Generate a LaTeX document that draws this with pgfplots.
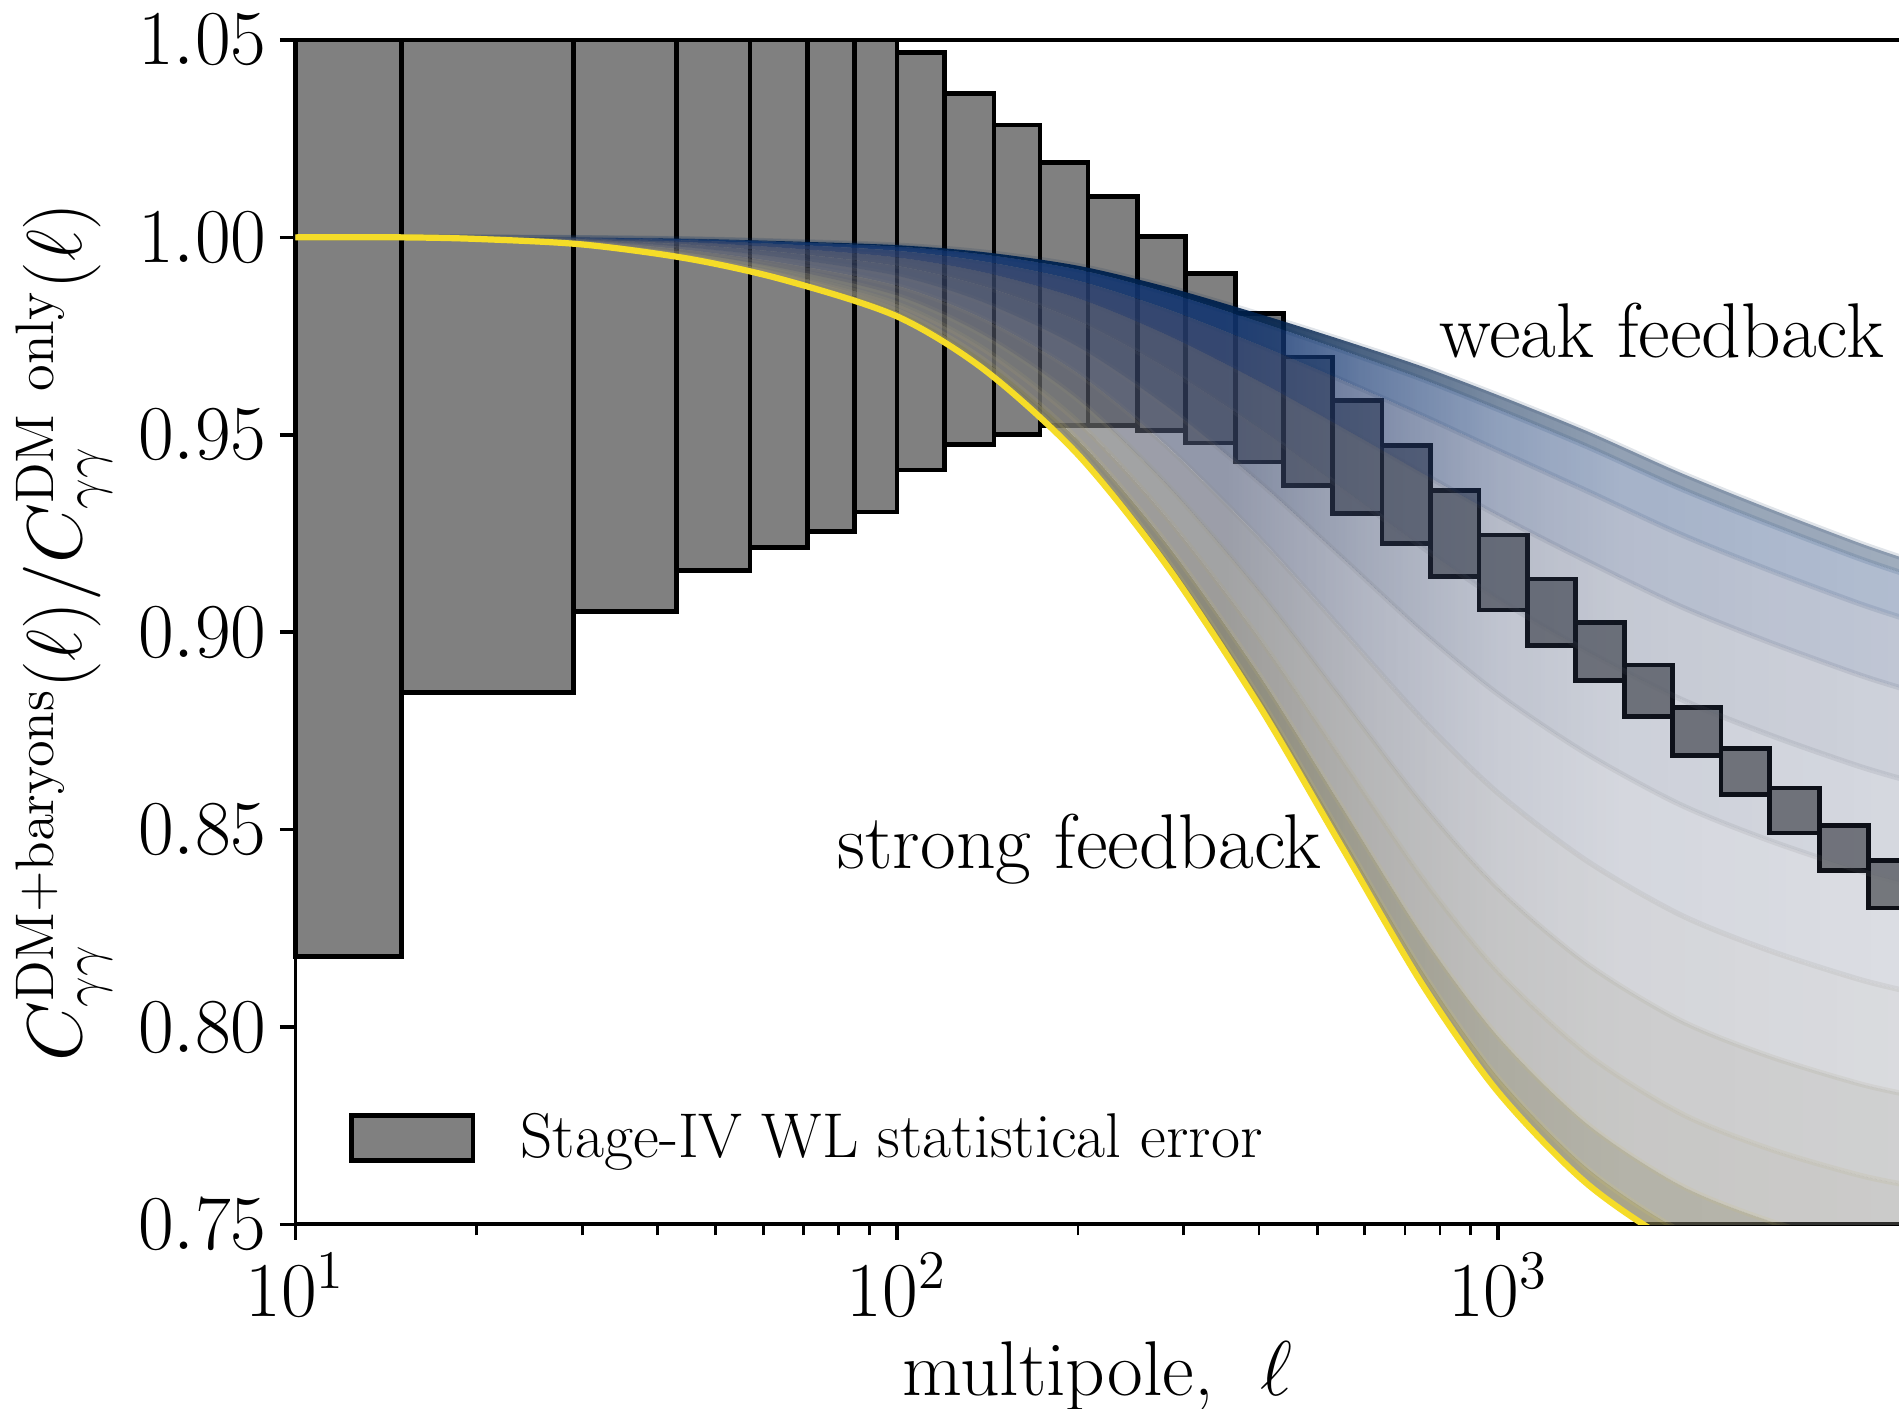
\RequirePackage{fix-cm}
\documentclass[border=0pt]{standalone}
\usepackage{pgfplots}
\usepackage{pgfplotstable}
\pgfplotsset{compat=1.18}
\usepgfplotslibrary{fillbetween}
\usetikzlibrary{fadings}

\newcommand\bigfont{\fontsize{20}{24}\selectfont}
\newcommand\legfont{\fontsize{16.3}{19}\selectfont}

\definecolor{boxgray}{RGB}{128,128,128}
% line colours, weak (0) -> strong (11)
\definecolor{cv0}{RGB}{0,32,77}
\definecolor{cv1}{RGB}{0,48,105}
\definecolor{cv2}{RGB}{36,64,108}
\definecolor{cv3}{RGB}{71,81,108}
\definecolor{cv4}{RGB}{94,98,111}
\definecolor{cv5}{RGB}{114,115,116}
\definecolor{cv6}{RGB}{136,133,121}
\definecolor{cv7}{RGB}{158,151,118}
\definecolor{cv8}{RGB}{182,170,112}
\definecolor{cv9}{RGB}{208,191,102}
\definecolor{cv10}{RGB}{233,212,87}
\definecolor{cv11}{RGB}{245,220,40}
% fills between neighbouring curves
\definecolor{st0}{RGB}{0,34,78}
\definecolor{st1}{RGB}{18,53,112}
\definecolor{st2}{RGB}{40,62,110}
\definecolor{st3}{RGB}{59,73,108}
\definecolor{st4}{RGB}{59,73,108}
\definecolor{st5}{RGB}{75,85,115}
\definecolor{st6}{RGB}{87,92,109}
\definecolor{st7}{RGB}{112,113,115}
\definecolor{st8}{RGB}{124,123,120}
\definecolor{st9}{RGB}{120,118,100}
\definecolor{st10}{RGB}{126,119,76}

% the models crowd together at low l and spread out at high l
\pgfdeclarehorizontalshading{bandshade}{100bp}{color(0bp)=(white); color(53.6bp)=(white);
  color(57.9bp)=(black!30); color(62bp)=(black!52); color(65.7bp)=(black!63);
  color(75bp)=(black!70); color(100bp)=(black!70)}
\tikzfading[name=bandfade, shading=bandshade]

% ratio curves, weak feedback (c0) to strong feedback (c11)
\pgfplotstableread{
l    c0     c1      c2      c3      c4      c5      c6      c7      c8      c9      c10     c11
10   1.0000 1.00000 1.00000 1.00000 1.00000 1.00000 1.00000 1.00000 1.00000 1.00000 1.00000 1.0000
15   1.0000 1.00000 1.00000 1.00000 1.00000 1.00000 1.00000 1.00000 1.00000 1.00000 1.00000 1.0000
20   1.0000 1.00000 0.99997 0.99993 0.99988 0.99983 0.99977 0.99972 0.99967 0.99963 0.99961 0.9996
30   0.9999 0.99987 0.99977 0.99961 0.99940 0.99917 0.99893 0.99870 0.99849 0.99834 0.99823 0.9982
45   0.9996 0.99950 0.99920 0.99874 0.99814 0.99746 0.99674 0.99606 0.99546 0.99500 0.99470 0.9946
65   0.9990 0.99880 0.99822 0.99731 0.99614 0.99480 0.99340 0.99206 0.99089 0.98998 0.98940 0.9892
100  0.9980 0.99763 0.99657 0.99489 0.99274 0.99028 0.98772 0.98526 0.98311 0.98143 0.98037 0.9800
140  0.9962 0.99560 0.99383 0.99106 0.98749 0.98342 0.97918 0.97511 0.97154 0.96877 0.96701 0.9664
200  0.9928 0.99183 0.98900 0.98455 0.97883 0.97230 0.96550 0.95897 0.95325 0.94880 0.94597 0.9450
280  0.9875 0.98607 0.98192 0.97537 0.96695 0.95735 0.94735 0.93775 0.92933 0.92278 0.91863 0.9172
400  0.9806 0.97859 0.97273 0.96350 0.95163 0.93810 0.92400 0.91047 0.89861 0.88937 0.88351 0.8815
550  0.9740 0.97139 0.96380 0.95182 0.93644 0.91889 0.90061 0.88306 0.86768 0.85570 0.84811 0.8455
750  0.9672 0.96402 0.95476 0.94015 0.92140 0.89999 0.87771 0.85630 0.83755 0.82294 0.81368 0.8105
1000 0.9600 0.95642 0.94599 0.92954 0.90841 0.88430 0.85920 0.83509 0.81396 0.79751 0.78708 0.7835
1400 0.9510 0.94713 0.93587 0.91812 0.89532 0.86930 0.84221 0.81618 0.79338 0.77563 0.76437 0.7605
2000 0.9405 0.93652 0.92494 0.90667 0.88321 0.85644 0.82856 0.80179 0.77833 0.76006 0.74848 0.7445
2800 0.9315 0.92752 0.91594 0.89767 0.87421 0.84744 0.81956 0.79279 0.76933 0.75106 0.73948 0.7355
4000 0.9225 0.91857 0.90714 0.88910 0.86594 0.83951 0.81199 0.78556 0.76240 0.74436 0.73293 0.7290
5000 0.9175 0.91362 0.90233 0.88453 0.86167 0.83558 0.80842 0.78233 0.75947 0.74167 0.73038 0.7265
}\bands

\begin{document}
\begin{tikzpicture}
\begin{axis}[
  name=ax,
  set layers,
  scale only axis,
  width=14.524cm, height=10.728cm,
  xmode=log, xmin=10, xmax=4640,
  ymin=0.75, ymax=1.05,
  ytick={0.75,0.8,0.85,0.9,0.95,1,1.05},
  yticklabel style={/pgf/number format/.cd, fixed, fixed zerofill, precision=2},
  xtick={10,100,1000},
  axis lines=left,
  axis line style={-, line width=1pt, black},
  tick align=outside,
  major tick length=4pt, minor tick length=2.8pt,
  tick style={black, line width=0.9pt},
  minor tick style={line width=0.7pt},
  tick label style={font=\bigfont},
  label style={font=\bigfont},
  xlabel={multipole, \ $\ell$},
  xlabel style={yshift=0.5pt},
  ylabel={$C_{\gamma\gamma}^{\mathrm{DM+baryons}}(\ell)/C_{\gamma\gamma}^{\mathrm{DM\ only}}(\ell)$},
  legend cell align=left,
  legend style={draw=none, fill=none, at={(axis description cs:0.0332,0.0731)}, anchor=west,
    inner sep=0pt, font=\legfont, /tikz/every odd column/.append style={column sep=9.7pt}},
  legend image code/.code={\draw[fill=boxgray, draw=black, line width=1.2pt] (0cm,-0.203cm) rectangle (1.097cm,0.203cm);},
  errbox/.style={fill=boxgray, draw=black, line width=1.2pt, line join=miter, forget plot, on layer=pre main},
  after end axis/.code={\draw[line width=1pt] (rel axis cs:0,1) -- (rel axis cs:1,1);},
]

% Stage-IV error boxes: l_min, l_max, lower, upper (cut at the frame)
\addplot[errbox] coordinates {(10,0.8178) (15,0.8178) (15,1.05) (10,1.05)} -- cycle;
\addplot[errbox] coordinates {(15,0.8847) (29,0.8847) (29,1.05) (15,1.05)} -- cycle;
\addplot[errbox] coordinates {(29,0.9052) (43,0.9052) (43,1.05) (29,1.05)} -- cycle;
\addplot[errbox] coordinates {(43,0.9157) (57,0.9157) (57,1.05) (43,1.05)} -- cycle;
\addplot[errbox] coordinates {(57,0.9215) (71,0.9215) (71,1.05) (57,1.05)} -- cycle;
\addplot[errbox] coordinates {(71,0.9255) (85,0.9255) (85,1.05) (71,1.05)} -- cycle;
\addplot[errbox] coordinates {(85,0.9304) (100,0.9304) (100,1.05) (85,1.05)} -- cycle;
\addplot[errbox] coordinates {(100,0.9411) (120,0.9411) (120,1.0469) (100,1.0469)} -- cycle;
\addplot[errbox] coordinates {(120,0.9476) (145,0.9476) (145,1.0365) (120,1.0365)} -- cycle;
\addplot[errbox] coordinates {(145,0.9500) (173,0.9500) (173,1.0285) (145,1.0285)} -- cycle;
\addplot[errbox] coordinates {(173,0.9524) (208,0.9524) (208,1.0190) (173,1.0190)} -- cycle;
\addplot[errbox] coordinates {(208,0.9524) (251,0.9524) (251,1.0104) (208,1.0104)} -- cycle;
\addplot[errbox] coordinates {(251,0.9510) (302,0.9510) (302,1.0003) (251,1.0003)} -- cycle;
\addplot[errbox] coordinates {(302,0.9479) (366,0.9479) (366,0.9908) (302,0.9908)} -- cycle;
\addplot[errbox] coordinates {(366,0.9431) (440,0.9431) (440,0.9807) (366,0.9807)} -- cycle;
\addplot[errbox] coordinates {(440,0.9372) (530,0.9372) (530,0.9697) (440,0.9697)} -- cycle;
\addplot[errbox] coordinates {(530,0.9300) (641,0.9300) (641,0.9586) (530,0.9586)} -- cycle;
\addplot[errbox] coordinates {(641,0.9224) (772,0.9224) (772,0.9473) (641,0.9473)} -- cycle;
\addplot[errbox] coordinates {(772,0.9141) (929,0.9141) (929,0.9359) (772,0.9359)} -- cycle;
\addplot[errbox] coordinates {(929,0.9056) (1118,0.9056) (1118,0.9246) (929,0.9246)} -- cycle;
\addplot[errbox] coordinates {(1118,0.8967) (1345,0.8967) (1345,0.9135) (1118,0.9135)} -- cycle;
\addplot[errbox] coordinates {(1345,0.8878) (1620,0.8878) (1620,0.9025) (1345,0.9025)} -- cycle;
\addplot[errbox] coordinates {(1620,0.8786) (1950,0.8786) (1950,0.8917) (1620,0.8917)} -- cycle;
\addplot[errbox] coordinates {(1950,0.8687) (2348,0.8687) (2348,0.8810) (1950,0.8810)} -- cycle;
\addplot[errbox] coordinates {(2348,0.8589) (2826,0.8589) (2826,0.8706) (2348,0.8706)} -- cycle;
\addplot[errbox] coordinates {(2826,0.8491) (3418,0.8491) (3418,0.8605) (2826,0.8605)} -- cycle;
\addplot[errbox] coordinates {(3418,0.8396) (4133,0.8396) (4133,0.8510) (3418,0.8510)} -- cycle;
\addplot[errbox] coordinates {(4133,0.8301) (4720,0.8301) (4720,0.8421) (4133,0.8421)} -- cycle;
\addlegendimage{}
\addlegendentry{Stage-IV WL statistical error}

% feedback models
\pgfplotsinvokeforeach{0,...,11}{
  \addplot[draw=none, smooth, name path=p#1, forget plot] table[x=l, y=c#1] {\bands};
}
% constant part of each layer
\addplot[fill=st0, fill opacity=0.12, draw=none] fill between[of=p0 and p1];
\addplot[fill=st1, fill opacity=0.08, draw=none] fill between[of=p1 and p2];
\addplot[fill=st2, fill opacity=0.05, draw=none] fill between[of=p2 and p3];
\addplot[fill=st3, fill opacity=0.03, draw=none] fill between[of=p3 and p4];
\addplot[fill=st4, fill opacity=0.02, draw=none] fill between[of=p4 and p5];
\addplot[fill=st5, fill opacity=0.02, draw=none] fill between[of=p5 and p6];
\addplot[fill=st6, fill opacity=0.06, draw=none] fill between[of=p6 and p7];
\addplot[fill=st7, fill opacity=0.19, draw=none] fill between[of=p7 and p8];
\addplot[fill=st8, fill opacity=0.24, draw=none] fill between[of=p8 and p9];
\addplot[fill=st9, fill opacity=0.39, draw=none] fill between[of=p9 and p10];
\addplot[fill=st10, fill opacity=0.52, draw=none] fill between[of=p10 and p11];
% part that fades as the models spread out
\addplot[fill=st0, fill opacity=0.94, draw=none, path fading=bandfade] fill between[of=p0 and p1];
\addplot[fill=st1, fill opacity=0.885, draw=none, path fading=bandfade] fill between[of=p1 and p2];
\addplot[fill=st2, fill opacity=0.84, draw=none, path fading=bandfade] fill between[of=p2 and p3];
\addplot[fill=st3, fill opacity=0.74, draw=none, path fading=bandfade] fill between[of=p3 and p4];
\addplot[fill=st4, fill opacity=0.65, draw=none, path fading=bandfade] fill between[of=p4 and p5];
\addplot[fill=st5, fill opacity=0.60, draw=none, path fading=bandfade] fill between[of=p5 and p6];
\addplot[fill=st6, fill opacity=0.57, draw=none, path fading=bandfade] fill between[of=p6 and p7];
\addplot[fill=st7, fill opacity=0.57, draw=none, path fading=bandfade] fill between[of=p7 and p8];
\addplot[fill=st8, fill opacity=0.67, draw=none, path fading=bandfade] fill between[of=p8 and p9];
\addplot[fill=st9, fill opacity=0.755, draw=none, path fading=bandfade] fill between[of=p9 and p10];
\addplot[fill=st10, fill opacity=0.79, draw=none, path fading=bandfade] fill between[of=p10 and p11];
\pgfplotsinvokeforeach{0,...,10}{
  \addplot[cv#1, line width=1.4pt, opacity=0.12, smooth, forget plot] table[x=l, y=c#1] {\bands};
}
\addplot[cv11, line width=1.6pt, smooth, forget plot] table[x=l, y=c11] {\bands};

\node[font=\bigfont, anchor=base west, inner sep=0pt] at (axis cs:796,0.9696) {weak feedback};
\node[font=\bigfont, anchor=base west, inner sep=0pt] at (axis cs:79.5,0.8402) {strong feedback};
\end{axis}
\pgfresetboundingbox
\path[use as bounding box] ([xshift=-2.676cm,yshift=-1.668cm]ax.south west) rectangle ([yshift=0.362cm]ax.north east);
\end{tikzpicture}
\end{document}
